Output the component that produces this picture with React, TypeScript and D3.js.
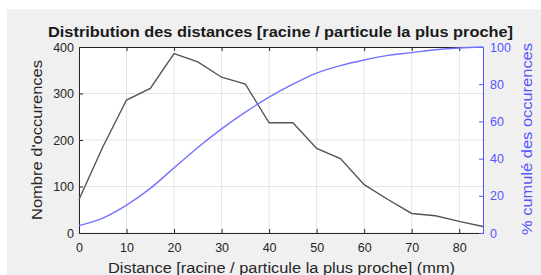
import { useRef, useEffect } from "react";
import * as d3 from "d3";

// distance classes (mm)
const distances = [0, 5, 10, 15, 20, 25, 30, 35, 40, 45, 50, 55, 60, 65, 70, 75, 80, 85];
// number of occurences per class
const counts = [72, 185, 286, 311, 386, 368, 335, 320, 237, 237, 182, 160, 104, 72, 42, 37, 25, 14];
// cumulated percentage
const cumul = [4, 8, 15, 24, 35, 46, 56, 65, 73, 80, 86, 90, 93, 95.5, 97, 98.5, 99.5, 100];

const xTicks = [0, 10, 20, 30, 40, 50, 60, 70, 80];
const yLeftTicks = [0, 100, 200, 300, 400];
const yRightTicks = [0, 20, 40, 60, 80, 100];

const W = 541;
const H = 275;
const m = { left: 79, right: 483, top: 47, bottom: 233 };
const font = "'Liberation Sans', Arial, sans-serif";
const axisCol = "#262626";
const blue = "#5555ff";
const blueLine = "#7373ff";

export default function App() {
  const svgRef = useRef<SVGSVGElement | null>(null);

  useEffect(() => {
    const svg = d3.select(svgRef.current);
    svg.selectAll("*").remove();

    const x = d3.scaleLinear().domain([0, 85]).range([m.left, m.right]);
    const yL = d3.scaleLinear().domain([0, 400]).range([m.bottom, m.top]);
    const yR = d3.scaleLinear().domain([0, 100]).range([m.bottom, m.top]);

    // figure background
    svg.append("rect").attr("x", 7).attr("y", 9).attr("width", W - 7).attr("height", H - 9).attr("fill", "#f0f0f0");
    svg.append("rect")
      .attr("x", m.left).attr("y", m.top)
      .attr("width", m.right - m.left).attr("height", m.bottom - m.top)
      .attr("fill", "#fff");

    // grid
    const grid = svg.append("g").attr("stroke", "#e3e3e3").attr("stroke-width", 1);
    xTicks.forEach(t => {
      grid.append("line").attr("x1", x(t)).attr("x2", x(t)).attr("y1", m.top).attr("y2", m.bottom);
    });
    yLeftTicks.forEach(t => {
      grid.append("line").attr("x1", m.left).attr("x2", m.right).attr("y1", yL(t)).attr("y2", yL(t));
    });

    // bottom axis (ticks inward)
    const xAxis = d3.axisBottom(x).tickValues(xTicks).tickSizeInner(-4).tickSizeOuter(0).tickPadding(10);
    const gx = svg.append("g").attr("transform", `translate(0,${m.bottom})`).call(xAxis);
    gx.select(".domain").attr("stroke", axisCol);
    gx.selectAll(".tick line").attr("stroke", axisCol);
    gx.selectAll("text").attr("fill", axisCol).attr("font-size", 12.5).attr("font-family", font);

    // top axis line with ticks
    const xTop = d3.axisTop(x).tickValues(xTicks).tickSizeInner(-4).tickSizeOuter(0).tickFormat(() => "");
    const gt = svg.append("g").attr("transform", `translate(0,${m.top})`).call(xTop);
    gt.selectAll(".domain, .tick line").attr("stroke", axisCol);

    // left axis
    const yAxisL = d3.axisLeft(yL).tickValues(yLeftTicks).tickSizeInner(-4).tickSizeOuter(0).tickPadding(5);
    const gl = svg.append("g").attr("transform", `translate(${m.left},0)`).call(yAxisL);
    gl.selectAll(".domain, .tick line").attr("stroke", axisCol);
    gl.selectAll("text").attr("fill", axisCol).attr("font-size", 12.5).attr("font-family", font);

    // right axis
    const yAxisR = d3.axisRight(yR).tickValues(yRightTicks).tickSizeInner(-4).tickSizeOuter(0).tickPadding(7);
    const gr = svg.append("g").attr("transform", `translate(${m.right},0)`).call(yAxisR);
    gr.selectAll(".domain, .tick line").attr("stroke", blue);
    gr.selectAll("text").attr("fill", blue).attr("font-size", 12.5).attr("font-family", font);

    // series
    const idx = d3.range(distances.length);
    const lineL = d3.line<number>().x(i => x(distances[i])).y(i => yL(counts[i]));
    const lineR = d3.line<number>().curve(d3.curveMonotoneX).x(i => x(distances[i])).y(i => yR(cumul[i]));

    svg.append("path").datum(idx).attr("d", lineL)
      .attr("fill", "none").attr("stroke", "#555").attr("stroke-width", 1.4);
    svg.append("path").datum(idx).attr("d", lineR)
      .attr("fill", "none").attr("stroke", blueLine).attr("stroke-width", 1.4);

    // title and labels
    svg.append("text")
      .attr("x", 280.5).attr("y", 36.5)
      .attr("text-anchor", "middle").attr("font-family", font)
      .attr("font-size", 15).attr("font-weight", "bold").attr("fill", "#1a1a1a")
      .attr("textLength", 465).attr("lengthAdjust", "spacingAndGlyphs")
      .text("Distribution des distances [racine / particule la plus proche]");

    svg.append("text")
      .attr("x", 281.5).attr("y", 273)
      .attr("text-anchor", "middle").attr("font-family", font)
      .attr("font-size", 15.5).attr("fill", axisCol)
      .attr("textLength", 347).attr("lengthAdjust", "spacingAndGlyphs")
      .text("Distance [racine / particule la plus proche] (mm)");

    svg.append("text")
      .attr("transform", `translate(42,140) rotate(-90)`)
      .attr("text-anchor", "middle").attr("font-family", font)
      .attr("font-size", 15).attr("fill", axisCol)
      .attr("textLength", 160).attr("lengthAdjust", "spacingAndGlyphs")
      .text("Nombre d'occurences");

    svg.append("text")
      .attr("transform", `translate(532,139) rotate(-90)`)
      .attr("text-anchor", "middle").attr("font-family", font)
      .attr("font-size", 15).attr("fill", blue)
      .attr("textLength", 192).attr("lengthAdjust", "spacingAndGlyphs")
      .text("% cumulé des occurences");
  }, []);

  return (
    <svg
      ref={svgRef}
      width={W}
      height={H}
      style={{ position: "absolute", left: 0, top: 0, display: "block" }}
    ></svg>
  );
}
